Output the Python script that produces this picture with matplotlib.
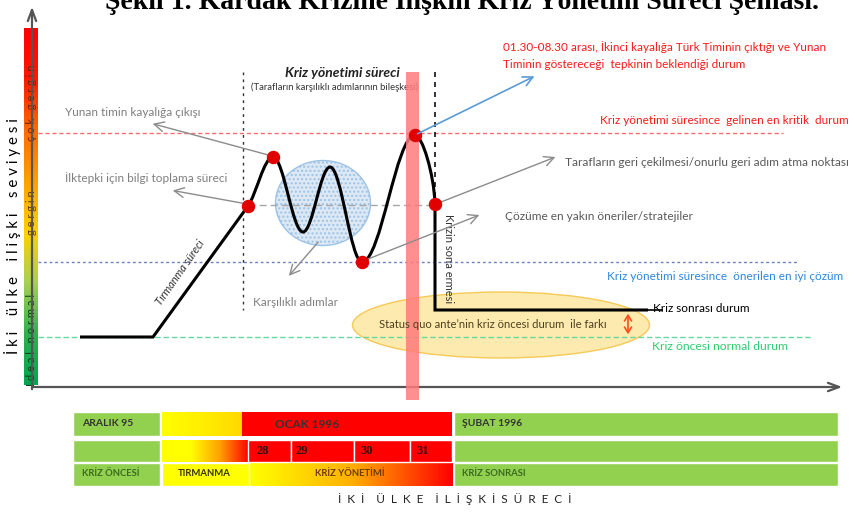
import matplotlib.pyplot as plt
import numpy as np
from matplotlib.path import Path
from matplotlib.patches import PathPatch, Ellipse, Rectangle
from matplotlib.colors import LinearSegmentedColormap

plt.rcParams['font.family'] = ['Lato', 'DejaVu Sans']

# crisis curve (x to the right, y downward = lower tension)
flat_x = [80, 153, 248]
flat_y = [337, 337, 206]
wave_x = [248, 273, 303, 330, 362, 415, 435]
wave_y = [206, 157, 232, 167, 262, 135, 204]
after_x = [435, 435, 648]
after_y = [204, 310, 310]
dot_x = [248, 273, 362, 415, 435]
dot_y = [206, 157, 262, 135, 204]

# reference tension levels (horizontal guide lines)
level_y = [133, 205, 262, 337]
level_x0 = [38, 248, 38, 38]
level_x1 = [783, 435, 797, 812]

# timeline table
months = ['ARALIK 95', 'OCAK 1996', 'ŞUBAT 1996']
days = ['28', '29', '30', '31']
day_edges = [248, 291, 354, 410, 452]
phases = ['KRİZ ÖNCESİ', 'TIRMANMA', 'KRİZ YÖNETİMİ', 'KRİZ SONRASI']

fig = plt.figure(figsize=(8.55, 5.12), dpi=100)
ax = fig.add_axes([0, 0, 1, 1])
ax.set_xlim(0, 855)
ax.set_ylim(512, 0)
ax.axis('off')


def gradient(x0, x1, y0, y1, colors, vertical=False, z=1):
    cmap = LinearSegmentedColormap.from_list('g', colors)
    g = np.linspace(0, 1, 256)
    img = g.reshape(-1, 1) if vertical else g.reshape(1, -1)
    ax.imshow(img, cmap=cmap, extent=[x0, x1, y1, y0], aspect='auto', zorder=z)


# title, clipped at the top as in the source
ax.text(462, 9, 'Şekil 1. Kardak Krizine İlişkin Kriz Yönetim Süreci Şeması.',
        family='Liberation Serif', weight='bold', fontsize=20, ha='center', va='baseline')

# tension colour bar on the left
gradient(24, 38, 28, 385, ['#ff0000', '#ff1a00', '#ff6a00', '#ffa000', '#ffd000',
                            '#a8d050', '#30b050', '#00a550'], vertical=True)
ax.text(31.5, 103, 'ç o k   g e r g i n', rotation=90, ha='center', va='center', fontsize=8,
        color='#6b2000')
ax.text(31.5, 213, 'g e r g i n', rotation=90, ha='center', va='center', fontsize=8,
        color='#5c4000')
ax.text(31.5, 340, 'I d e a l   n o r m a l', rotation=90, ha='center', va='center', fontsize=8,
        color='#0a3d14')
ax.text(13, 236, 'İ k i    ü l k e    i l i ş k i    s e v i y e s i', rotation=90,
        ha='center', va='center', fontsize=10.8)

# axes arrows
ax.annotate('', xy=(32, 4), xytext=(32, 392),
            arrowprops=dict(arrowstyle='->,head_length=0.8,head_width=0.3', color='#555555', lw=1.6))
ax.annotate('', xy=(845, 387), xytext=(30, 387),
            arrowprops=dict(arrowstyle='->,head_length=0.8,head_width=0.3', color='#555555', lw=1.6))

# horizontal guide lines
ax.plot([level_x0[0], level_x1[0]], [level_y[0]] * 2, ls=(0, (3, 2)), color='#ff6b6b', lw=1, zorder=2)
ax.plot([level_x0[1], level_x1[1]], [level_y[1]] * 2, ls=(0, (5, 3)), color='#a6a6a6', lw=1, zorder=2)
ax.plot([level_x0[2], level_x1[2]], [level_y[2]] * 2, ls=(0, (2, 2)), color='#6f7fc0', lw=1, zorder=2)
ax.plot([level_x0[3], level_x1[3]], [level_y[3]] * 2, ls=(0, (4, 2)), color='#66d9a0', lw=1, zorder=2)

# vertical markers of crisis management period
ax.plot([243, 243], [72, 310], ls=(0, (2, 3)), color='#333333', lw=1, zorder=2)
ax.plot([435, 435], [72, 204], ls=(0, (3, 3)), color='#111111', lw=1.2, zorder=2)

# shaded areas
ax.add_patch(Ellipse((323, 203), 95, 85, facecolor='#dde8f5', edgecolor='#9dc3e6',
                     lw=1, hatch='....', zorder=1.5))
ax.add_patch(Ellipse((501, 325), 297, 66, facecolor='#fde7a0', edgecolor='#f5c242',
                     lw=1, alpha=0.85, zorder=1.5))
ax.add_patch(Rectangle((406, 72), 13, 328, facecolor='#ff7b7b', edgecolor='none', alpha=0.85, zorder=4))

# the crisis curve
verts = [(flat_x[0], flat_y[0]), (flat_x[1], flat_y[1]), (flat_x[2], flat_y[2])]
codes = [Path.MOVETO, Path.LINETO, Path.LINETO]
seg = np.hypot(flat_x[2] - flat_x[1], flat_y[2] - flat_y[1])
sx = (flat_x[2] - flat_x[1]) / seg
sy = (flat_y[2] - flat_y[1]) / seg
for i in range(len(wave_x) - 1):
    x0, y0, x1, y1 = wave_x[i], wave_y[i], wave_x[i + 1], wave_y[i + 1]
    dx = x1 - x0
    if i == 0:
        c1 = (x0 + sx * 14, y0 + sy * 14)
    else:
        c1 = (x0 + 0.36 * dx, y0)
    if i == len(wave_x) - 2:
        c2 = (x1 - 1, y1 - 30)
    else:
        c2 = (x1 - 0.36 * dx, y1)
    verts += [c1, c2, (x1, y1)]
    codes += [Path.CURVE4] * 3
verts += [(after_x[1], after_y[1]), (after_x[2], after_y[2])]
codes += [Path.LINETO, Path.LINETO]
ax.add_patch(PathPatch(Path(verts, codes), facecolor='none', edgecolor='black', lw=2.2, zorder=3))
ax.plot([648, 662], [310, 310], color='black', lw=1.2, zorder=3)
ax.scatter(dot_x, dot_y, s=75, color='#e00000', zorder=5)

# labels on the curve
ax.text(180, 273, 'Tırmanma süreci', rotation=55, ha='center', va='center', fontsize=8,
        style='italic', color='#333333')
ax.text(448, 259, 'Krizin sona ermesi', rotation=-90, ha='center', va='center', fontsize=8,
        color='#333333')
ax.text(342, 73, 'Kriz yönetimi süreci', ha='center', va='center', fontsize=10,
        style='italic', weight='bold', color='#222222')
ax.text(334, 87, '(Tarafların karşılıklı adımlarının bileşkesi)', ha='center', va='center',
        fontsize=6.8, color='#333333')

gray = '#7f7f7f'
arrow = dict(arrowstyle='->,head_length=0.7,head_width=0.35', color='#8c8c8c', lw=1)
ax.text(65, 113, 'Yunan timin kayalığa çıkışı', ha='left', va='center', fontsize=8.5, color=gray)
ax.annotate('', xy=(150, 123), xytext=(272, 156), arrowprops=arrow, zorder=4)
ax.text(65, 178, 'İlktepki için bilgi toplama süreci', ha='left', va='center', fontsize=8.5, color=gray)
ax.annotate('', xy=(170, 190), xytext=(247, 204), arrowprops=arrow, zorder=4)
ax.text(253, 302, 'Karşılıklı adımlar', ha='left', va='center', fontsize=8.5, color=gray)
ax.annotate('', xy=(287, 278), xytext=(320, 240), arrowprops=arrow, zorder=4)
ax.text(565, 162, 'Tarafların geri çekilmesi/onurlu geri adım atma noktası', ha='left',
        va='center', fontsize=8.6, color='#595959')
ax.annotate('', xy=(558, 156), xytext=(436, 204), arrowprops=arrow, zorder=4)
ax.text(505, 217, 'Çözüme en yakın öneriler/stratejiler', ha='left', va='center', fontsize=8.6,
        color='#595959')
ax.annotate('', xy=(482, 214), xytext=(363, 261), arrowprops=arrow, zorder=4)

ax.text(503, 47, '01.30-08.30 arası, İkinci kayalığa Türk Timinin çıktığı ve Yunan',
        ha='left', va='center', fontsize=8.5, color='#ff1a1a')
ax.text(503, 65, 'Timinin göstereceği  tepkinin beklendiği durum',
        ha='left', va='center', fontsize=8.5, color='#ff1a1a')
ax.annotate('', xy=(537, 75), xytext=(415, 135),
            arrowprops=dict(arrowstyle='->,head_length=0.7,head_width=0.35', color='#5b9bd5', lw=1.2),
            zorder=6)
ax.text(600, 120, 'Kriz yönetimi süresince  gelinen en kritik  durum', ha='left', va='center',
        fontsize=8.5, color='#ff1a1a')
ax.text(607, 277, 'Kriz yönetimi süresince  önerilen en iyi çözüm', ha='left', va='center',
        fontsize=8.5, color='#2e86de')
ax.text(653, 309, 'Kriz sonrası durum', ha='left', va='center', fontsize=8.5, color='black')
ax.text(652, 347, 'Kriz öncesi normal durum', ha='left', va='center', fontsize=8.7, color='#2ecc71')
ax.text(493, 325, 'Status quo ante\u2019nin kriz öncesi durum  ile farkı', ha='center', va='center',
        fontsize=8.1, color='#4d4020', zorder=6)
ax.annotate('', xy=(628, 337), xytext=(628, 311),
            arrowprops=dict(arrowstyle='<->,head_length=0.4,head_width=0.25', color='#ff4d1a', lw=1.2),
            zorder=6)

# timeline table
green = '#92d050'
rows = [(412, 436), (440, 462), (463, 486)]
for y0, y1 in rows:
    ax.add_patch(Rectangle((73, y0), 87, y1 - y0, facecolor=green, edgecolor='white', lw=1, zorder=2))
    ax.add_patch(Rectangle((454, y0), 384, y1 - y0, facecolor=green, edgecolor='white', lw=1, zorder=2))
# row 1: months
gradient(162, 242, 412, 436, ['#ffff00', '#ffee00', '#ffd800'])
ax.add_patch(Rectangle((242, 412), 210, 24, facecolor='#ff0000', edgecolor='none', zorder=2))
# row 2: days
gradient(162, 248, 440, 462, ['#ffff00', '#ffff00', '#ffa000', '#ff0000'])
for i in range(len(days)):
    ax.add_patch(Rectangle((day_edges[i], 440), day_edges[i + 1] - day_edges[i], 22,
                           facecolor='#ff0000', edgecolor='white', lw=1, zorder=2))
# row 3: phases
ax.add_patch(Rectangle((162, 463), 87, 23, facecolor='#ffff00', edgecolor='white', lw=1, zorder=2))
gradient(250, 452, 463, 486, ['#ffff00', '#ffb000', '#ff0000'])

ax.text(82, 424, months[0], ha='left', va='center', fontsize=7.5, weight='bold', color='#333333', zorder=6)
ax.text(307, 424, months[1], ha='center', va='center', fontsize=8.5, weight='bold', color='#333333', zorder=6)
ax.text(462, 424, months[2], ha='left', va='center', fontsize=7.5, weight='bold', color='#333333', zorder=6)
day_x = [263, 302, 367, 423]
for d, x in zip(days, day_x):
    ax.text(x, 451, d, ha='center', va='center', family='Liberation Serif', weight='bold',
            fontsize=9, color='#331010', zorder=6)
ax.text(82, 474, phases[0], ha='left', va='center', fontsize=6.8, weight='bold', color='#3b6b20', zorder=6)
ax.text(204, 474, phases[1], ha='center', va='center', fontsize=6.8, weight='bold', color='#333300', zorder=6)
ax.text(350, 474, phases[2], ha='center', va='center', fontsize=6.8, weight='bold', color='#6b3a00', zorder=6)
ax.text(462, 474, phases[3], ha='left', va='center', fontsize=6.8, weight='bold', color='#3b6b20', zorder=6)
ax.text(455, 499, 'İ  K  İ    Ü  L  K  E    İ  L  İ  Ş  K  İ  S  Ü  R  E  C  İ', ha='center',
        va='center', fontsize=8.5, color='#222222')

fig.savefig('out.png', dpi=100)
